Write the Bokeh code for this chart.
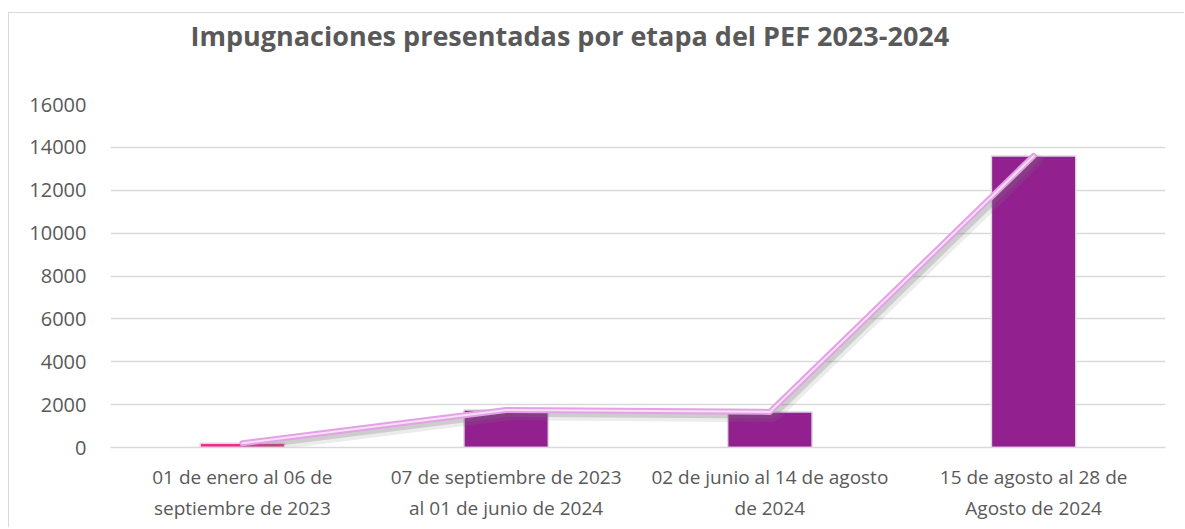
from bokeh.plotting import figure
from bokeh.models import ColumnDataSource, Title, FixedTicker
from bokeh.transform import dodge
from bokeh.embed import file_html
from bokeh.resources import INLINE

# Data
categories = [
    "01 de enero al 06 de\nseptiembre de 2023",
    "07 de septiembre de 2023\nal 01 de junio de 2024",
    "02 de junio al 14 de agosto\nde 2024",
    "15 de agosto al 28 de\nAgosto de 2024",
]
values = [200, 1750, 1660, 13600]
bar_colors = ["#E8308C", "#92208F", "#92208F", "#92208F"]
y_ticks = [0, 2000, 4000, 6000, 8000, 10000, 12000, 14000, 16000]

FONT = "Open Sans"
GRAY = "#595959"

src = ColumnDataSource(dict(x=categories, y=values, color=bar_colors))

p = figure(
    x_range=categories, y_range=(0, 16000),
    width=1176, height=515,
    output_backend="svg", toolbar_location=None,
    min_border_left=101, min_border_right=20,
    min_border_top=91, min_border_bottom=81,
)
# spacer between frame and title
p.add_layout(Title(text=" ", text_font=FONT, text_font_size="36px",
                   standoff=0), "above")
p.add_layout(Title(text="Impugnaciones presentadas por etapa del PEF 2023-2024",
                   text_font=FONT, text_font_size="27px", text_font_style="bold",
                   text_color=GRAY, align="left", offset=80, standoff=0), "above")

p.outline_line_color = None
p.styles = {"margin-left": "8px", "margin-top": "12px",
            "border-left": "1px solid #d9d9d9", "border-top": "1px solid #d9d9d9"}

p.vbar(x="x", top="y", width=0.32, source=src, fill_color="color",
       line_color="#dcdcdc", line_width=1.5)

# line with soft shadow
p.line(x=dodge("x", 0.014, range=p.x_range), y=dodge("y", -200), source=src,
       line_color="#808080", line_alpha=0.15, line_width=12, line_cap="round")
p.line(x=dodge("x", 0.01, range=p.x_range), y=dodge("y", -150), source=src,
       line_color="#707070", line_alpha=0.25, line_width=7, line_cap="round")
p.line(x="x", y="y", source=src, line_color="#E3A1E6", line_width=6,
       line_cap="round", line_join="round")
p.line(x="x", y="y", source=src, line_color="#F5E0F6", line_width=2,
       line_cap="round", line_join="round")

p.yaxis.ticker = FixedTicker(ticks=y_ticks)
p.ygrid.grid_line_color = "#d9d9d9"
p.ygrid.grid_line_width = 1.3
p.xgrid.grid_line_color = None

for ax in (p.xaxis, p.yaxis):
    ax.major_tick_line_color = None
    ax.minor_tick_line_color = None
    ax.major_label_text_font = FONT
    ax.major_label_text_color = GRAY

p.yaxis.major_label_text_font_size = "20px"
p.xaxis.major_label_text_font_size = "19px"
p.yaxis.axis_line_color = None
p.yaxis.major_label_standoff = 18
p.xaxis.axis_line_color = "#d9d9d9"
p.xaxis.axis_line_width = 1.3
p.xaxis.major_label_standoff = 10

open("out.html", "w").write(file_html(p, INLINE))
